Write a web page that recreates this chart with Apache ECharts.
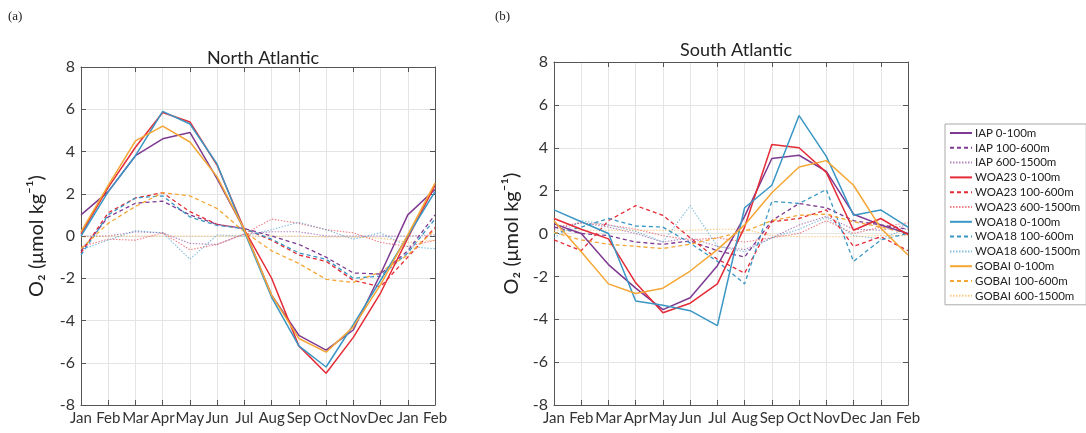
<!DOCTYPE html>
<html><head><meta charset="utf-8">
<script src="https://cdn.jsdelivr.net/npm/echarts@6/dist/echarts.min.js"></script>
<style>html,body{margin:0;padding:0;background:#fff}#c{width:1086px;height:433px}</style>
</head><body><div id="c"></div>
<script>
const months = ['Jan','Feb','Mar','Apr','May','Jun','Jul','Aug','Sep','Oct','Nov','Dec','Jan','Feb'];
const yTicks = [-8,-6,-4,-2,0,2,4,6,8];
const seriesNames = ['IAP 0-100m','IAP 100-600m','IAP 600-1500m','WOA23 0-100m','WOA23 100-600m','WOA23 600-1500m','WOA18 0-100m','WOA18 100-600m','WOA18 600-1500m','GOBAI 0-100m','GOBAI 100-600m','GOBAI 600-1500m'];

// North Atlantic
const naIap0   = [1.0, 2.1, 3.8, 4.6, 4.9, 2.7, 0.3, -2.8, -4.7, -5.4, -4.45, -1.8, 1.0, 2.2];
const naIap1   = [-0.7, 0.9, 1.55, 1.65, 1.0, 0.55, 0.35, 0.0, -0.4, -1.0, -1.75, -1.8, -0.7, 1.0];
const naIap2   = [0.0, 0.0, 0.2, 0.15, -0.35, -0.4, 0.1, 0.2, 0.2, 0.0, 0.0, 0.0, 0.0, 0.05];
const naWoa23_0 = [0.1, 2.3, 4.2, 5.85, 5.4, 3.35, 0.3, -2.0, -5.2, -6.5, -4.8, -2.7, -0.1, 2.4];
const naWoa23_1 = [-0.8, 1.1, 1.8, 2.05, 1.15, 0.55, 0.35, -0.2, -0.9, -1.2, -2.1, -2.4, -1.0, 0.4];
const naWoa23_2 = [-0.5, -0.15, -0.2, 0.15, -0.65, -0.4, 0.1, 0.8, 0.6, 0.3, 0.15, -0.3, -0.5, -0.2];
const naWoa18_0 = [0.0, 2.1, 3.8, 5.9, 5.3, 3.4, 0.2, -2.9, -5.2, -6.2, -4.2, -2.1, 0.0, 2.1];
const naWoa18_1 = [-0.9, 1.0, 1.8, 1.9, 0.9, 0.5, 0.35, -0.15, -0.8, -1.1, -2.0, -1.9, -0.8, 0.8];
const naWoa18_2 = [-0.65, -0.2, 0.25, 0.15, -1.1, 0.05, 0.0, 0.3, 0.65, 0.3, -0.15, 0.15, -0.5, -0.6];
const naGobai0 = [0.2, 2.4, 4.5, 5.2, 4.45, 2.8, 0.3, -2.8, -4.85, -5.5, -4.3, -2.3, 0.05, 2.5];
const naGobai1 = [-0.6, 0.6, 1.4, 2.05, 1.9, 1.3, 0.2, -0.7, -1.3, -2.05, -2.2, -1.7, -0.9, 0.3];
const naGobai2 = [-0.05, 0.0, 0.0, 0.0, 0.0, 0.0, 0.0, 0.0, 0.0, -0.05, -0.05, -0.1, -0.3, -0.2];

// South Atlantic
const saIap0   = [0.45, 0.0, -1.45, -2.55, -3.55, -3.0, -1.5, 0.8, 3.5, 3.65, 2.9, 0.9, 0.4, 0.0];
const saIap1   = [0.3, 0.0, -0.1, -0.4, -0.5, -0.35, -0.8, -1.1, 0.6, 1.4, 1.2, 0.6, 0.4, 0.2];
const saIap2   = [0.2, 0.5, 0.3, 0.0, -0.4, -0.2, -0.6, -0.75, -0.2, 0.4, 0.8, 0.2, 0.15, 0.4];
const saWoa23_0 = [0.7, 0.2, -0.25, -2.3, -3.7, -3.25, -2.35, 0.3, 4.15, 4.0, 2.85, 0.15, 0.7, -0.05];
const saWoa23_1 = [-0.3, -0.8, 0.6, 1.3, 0.85, -0.2, -1.2, -1.85, 0.55, 0.7, 1.1, -0.6, -0.15, -0.8];
const saWoa23_2 = [0.3, 0.5, 0.4, 0.2, -0.1, -0.3, -0.2, -0.4, -0.2, 0.0, 0.6, 0.0, 0.3, 0.5];
const saWoa18_0 = [1.1, 0.55, 0.0, -3.15, -3.35, -3.6, -4.3, 1.2, 2.25, 5.5, 3.6, 0.85, 1.1, 0.3];
const saWoa18_1 = [0.0, 0.3, 0.7, 0.35, 0.3, -0.45, -1.3, -2.35, 1.5, 1.4, 2.05, -1.3, -0.3, 0.0];
const saWoa18_2 = [-0.2, 0.6, 0.4, 0.1, -0.4, 1.3, -0.6, -0.85, -0.2, 0.2, 0.75, -0.1, -0.25, 0.25];
const saGobai0 = [0.6, -0.85, -2.35, -2.8, -2.55, -1.75, -0.75, 0.4, 1.9, 3.1, 3.4, 2.25, 0.25, -1.0];
const saGobai1 = [0.05, -0.3, -0.5, -0.6, -0.7, -0.5, -0.2, 0.1, 0.6, 0.85, 0.9, 0.55, 0.3, 0.0];
const saGobai2 = [0.15, 0.15, 0.15, 0.15, 0.15, 0.15, 0.2, 0.2, -0.1, -0.15, -0.15, -0.15, -0.1, -0.1];

const naData = [naIap0, naIap1, naIap2, naWoa23_0, naWoa23_1, naWoa23_2, naWoa18_0, naWoa18_1, naWoa18_2, naGobai0, naGobai1, naGobai2];
const saData = [saIap0, saIap1, saIap2, saWoa23_0, saWoa23_1, saWoa23_2, saWoa18_0, saWoa18_1, saWoa18_2, saGobai0, saGobai1, saGobai2];

const colors = ['#7E3A91', '#E52B36', '#3A96C4', '#F5A634'];
const styles = [
  {type: 'solid', width: 1.5, opacity: 1},
  {type: [4, 3], width: 1.3, opacity: 1},
  {type: [1.5, 1.5], width: 1.1, opacity: 0.6}
];

const FONT = 'Lato, "Open Sans", sans-serif';
const chart = echarts.init(document.getElementById('c'));

function xAxes(gi) {
  return [
    {type: 'category', gridIndex: gi, data: months, boundaryGap: false,
     axisLine: {onZero: false, lineStyle: {color: '#555', width: 1}},
     axisTick: {inside: true, length: 5, lineStyle: {color: '#555'}},
     axisLabel: {interval: 0, color: '#333', fontSize: 15, fontFamily: FONT, margin: 6, hideOverlap: false},
     splitLine: {show: true, lineStyle: {color: '#e4e4e4', width: 1}}},
    {type: 'category', gridIndex: gi, data: months, boundaryGap: false, position: 'top',
     axisLine: {onZero: false, lineStyle: {color: '#555', width: 1}},
     axisTick: {inside: true, length: 5, lineStyle: {color: '#555'}},
     axisLabel: {show: false}, splitLine: {show: false}}
  ];
}
function yAxes(gi, gap) {
  return [
    {type: 'value', gridIndex: gi, min: -8, max: 8, interval: 2,
     name: 'O\u2082 (\u03BCmol kg\u207B\u00B9)', nameLocation: 'middle', nameGap: gap, nameRotate: 90,
     nameTextStyle: {fontSize: 20, color: '#222', fontFamily: FONT},
     axisLine: {show: true, onZero: false, lineStyle: {color: '#555', width: 1}},
     axisTick: {show: true, inside: true, length: 5, lineStyle: {color: '#555'}},
     axisLabel: {color: '#333', fontSize: 16, fontFamily: FONT, margin: 6},
     splitLine: {show: true, lineStyle: {color: '#e4e4e4', width: 1}}},
    {type: 'value', gridIndex: gi, min: -8, max: 8, interval: 2, position: 'right',
     axisLine: {show: true, onZero: false, lineStyle: {color: '#555', width: 1}},
     axisTick: {show: true, inside: true, length: 5, lineStyle: {color: '#555'}},
     axisLabel: {show: false}, splitLine: {show: false}}
  ];
}

const series = [];
[naData, saData].forEach((set, gi) => {
  set.forEach((arr, k) => {
    const c = colors[Math.floor(k / 3)];
    const s = styles[k % 3];
    series.push({
      name: seriesNames[k], type: 'line', xAxisIndex: gi * 2, yAxisIndex: gi * 2,
      data: arr, symbol: 'none', silent: true, animation: false,
      z: 10 - (k % 3),
      lineStyle: {color: c, type: s.type, width: s.width, opacity: s.opacity},
      itemStyle: {color: c}
    });
  });
});

chart.setOption({
  animation: false,
  textStyle: {fontFamily: FONT},
  title: [
    {text: 'North Atlantic', left: 258, top: 44, textAlign: 'center', textStyle: {fontSize: 18, fontWeight: 'normal', color: '#222', fontFamily: FONT}},
    {text: 'South Atlantic', left: 731, top: 36, textAlign: 'center', textStyle: {fontSize: 18, fontWeight: 'normal', color: '#222', fontFamily: FONT}}
  ],
  graphic: [
    {type: 'text', left: 8, top: 10, style: {text: '(a)', font: '13px "Liberation Serif", serif', fill: '#222'}},
    {type: 'text', left: 495, top: 10, style: {text: '(b)', font: '13px "Liberation Serif", serif', fill: '#222'}}
  ],
  grid: [
    {left: 81, right: 651, top: 67, bottom: 28, containLabel: false},
    {left: 554, right: 178, top: 62, bottom: 28, containLabel: false}
  ],
  xAxis: [...xAxes(0), ...xAxes(1)],
  yAxis: [...yAxes(0, 34), ...yAxes(1, 32)],
  legend: {
    orient: 'vertical', left: 945, top: 124, itemWidth: 22, itemHeight: 10, itemGap: 2.8,
    padding: [3, 6, 3, 4], borderColor: '#aaa', borderWidth: 1,
    data: seriesNames, selectedMode: false,
    itemStyle: {opacity: 0, borderWidth: 0},
    textStyle: {fontSize: 11.5, lineHeight: 12, color: '#222', fontFamily: FONT, padding: [0, 0, 0, -2]}
  },
  series: series
});
</script></body></html>
